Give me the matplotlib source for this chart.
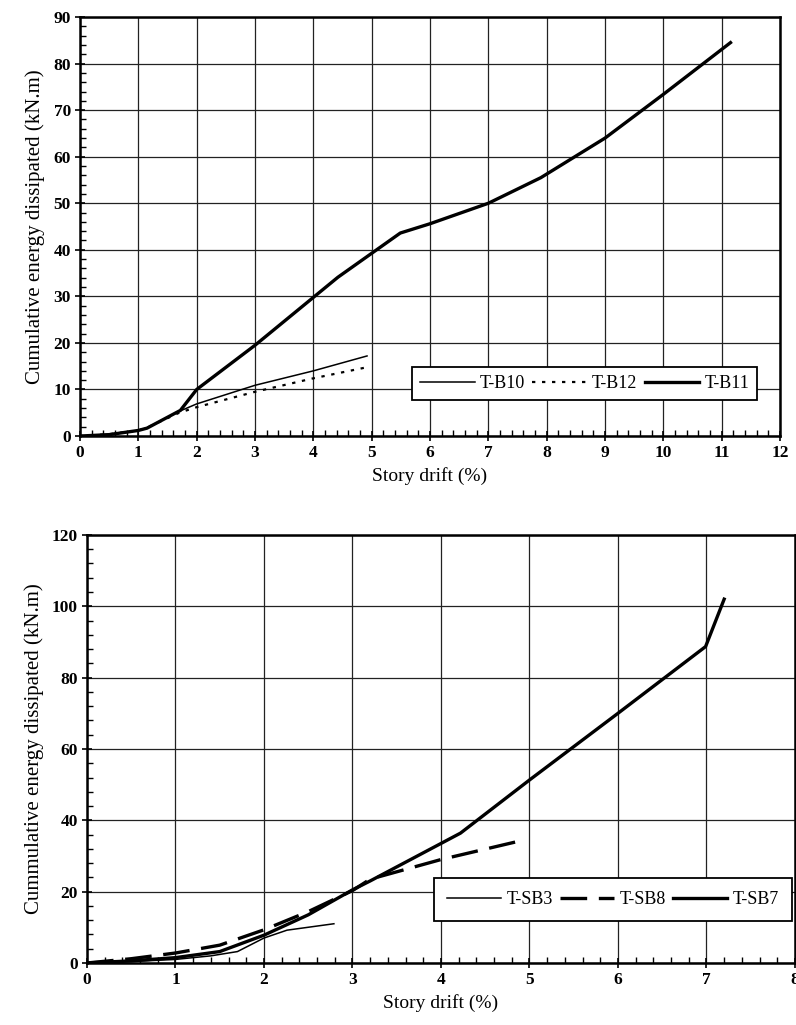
import matplotlib
matplotlib.use("Agg")
import matplotlib.pyplot as plt
from matplotlib.ticker import MultipleLocator

plt.rcParams['font.family'] = ['Liberation Serif', 'DejaVu Serif']

# ---- Top chart data ----
b10_x = [0, 0.5, 1.0, 1.15, 1.7, 2.0, 3.0, 4.0, 4.92]
b10_y = [0, 0.4, 1.2, 1.8, 5.3, 6.9, 10.9, 14.0, 17.2]
b12_x = [0, 0.5, 1.0, 1.15, 1.7, 2.0, 3.0, 4.0, 4.89]
b12_y = [0, 0.4, 1.2, 1.8, 5.0, 6.2, 9.5, 12.4, 14.7]
b11_x = [0, 0.5, 1.0, 1.15, 1.72, 2.0, 3.0, 4.42, 5.49, 6.0, 7.0, 7.9, 9.0, 10.0, 11.15]
b11_y = [0, 0.3, 1.2, 1.7, 5.5, 10.0, 19.5, 34.1, 43.6, 45.6, 50.0, 55.5, 64.0, 73.4, 84.5]

# ---- Bottom chart data ----
sb3_x = [0, 0.5, 1.0, 1.4, 1.7, 2.0, 2.26, 2.79]
sb3_y = [0, 0.4, 1.0, 2.0, 3.2, 7.0, 9.2, 11.0]
sb8_x = [0, 0.5, 1.0, 1.5, 2.0, 2.5, 3.0, 3.2, 4.0, 4.89]
sb8_y = [0, 1.2, 2.8, 5.0, 9.3, 14.4, 20.3, 23.5, 29.0, 34.2]
sb7_x = [0, 0.5, 1.0, 1.5, 2.0, 2.5, 3.0, 3.2, 4.22, 5.0, 6.0, 6.99, 7.2]
sb7_y = [0, 0.6, 1.5, 3.2, 7.8, 13.5, 20.5, 23.0, 36.4, 51.3, 70.0, 88.7, 102.0]

fig = plt.figure(figsize=(7.96, 10.25), dpi=100)

def style_axes(ax, xmax, ymax, xmaj, ymaj, xmin, ymin, ylabel):
    ax.set_xlim(0, xmax)
    ax.set_ylim(0, ymax)
    ax.xaxis.set_major_locator(MultipleLocator(xmaj))
    ax.yaxis.set_major_locator(MultipleLocator(ymaj))
    ax.xaxis.set_minor_locator(MultipleLocator(xmin))
    ax.yaxis.set_minor_locator(MultipleLocator(ymin))
    ax.grid(True, which='major', color='#222222', linewidth=0.9)
    ax.set_axisbelow(True)
    for s in ax.spines.values():
        s.set_linewidth(1.8)
        s.set_color('black')
    ax.tick_params(which='major', direction='inout', length=7, width=1.2,
                   labelsize=12.5, pad=3)
    ax.tick_params(which='minor', direction='in', length=4, width=1.0)
    for lab in ax.get_xticklabels() + ax.get_yticklabels():
        lab.set_fontweight('bold')
    ax.set_xlabel('Story drift (%)', fontsize=14, labelpad=4)
    ax.set_ylabel(ylabel, fontsize=15, labelpad=6)

# Top
ax1 = fig.add_axes([0.1005, 0.5746, 0.8795, 0.4088])
ax1.plot(b10_x, b10_y, color='black', lw=1.1, label='T-B10')
ax1.plot(b12_x, b12_y, color='black', lw=1.6, linestyle=(0, (1.5, 3)), label='T-B12')
ax1.plot(b11_x, b11_y, color='black', lw=2.4, label='T-B11')
style_axes(ax1, 12, 90, 1, 10, 0.2, 2, 'Cumulative energy dissipated (kN.m)')
leg1 = ax1.legend(loc='center', bbox_to_anchor=(0.721, 0.125),
                  ncol=3, fontsize=13, handlelength=3.0,
                  handletextpad=0.3, columnspacing=0.4, borderpad=0.45,
                  borderaxespad=0, fancybox=False, framealpha=1, edgecolor='black')
leg1.get_frame().set_linewidth(1.3)

# Bottom
ax2 = fig.add_axes([0.1093, 0.0605, 0.8894, 0.4176])
ax2.plot(sb3_x, sb3_y, color='black', lw=1.1, label='T-SB3')
ax2.plot(sb8_x, sb8_y, color='black', lw=2.4, linestyle=(0, (8, 3.5)), label='T-SB8')
ax2.plot(sb7_x, sb7_y, color='black', lw=2.4, label='T-SB7')
style_axes(ax2, 8, 120, 1, 20, 0.2, 4, 'Cummulative energy dissipated (kN.m)')
leg2 = ax2.legend(loc='center', bbox_to_anchor=(0.743, 0.148),
                  ncol=3, fontsize=13, handlelength=3.0,
                  handletextpad=0.3, columnspacing=0.4, borderpad=0.7,
                  borderaxespad=0, fancybox=False, framealpha=1, edgecolor='black')
leg2.get_frame().set_linewidth(1.3)

fig.savefig('out.png', dpi=100)
